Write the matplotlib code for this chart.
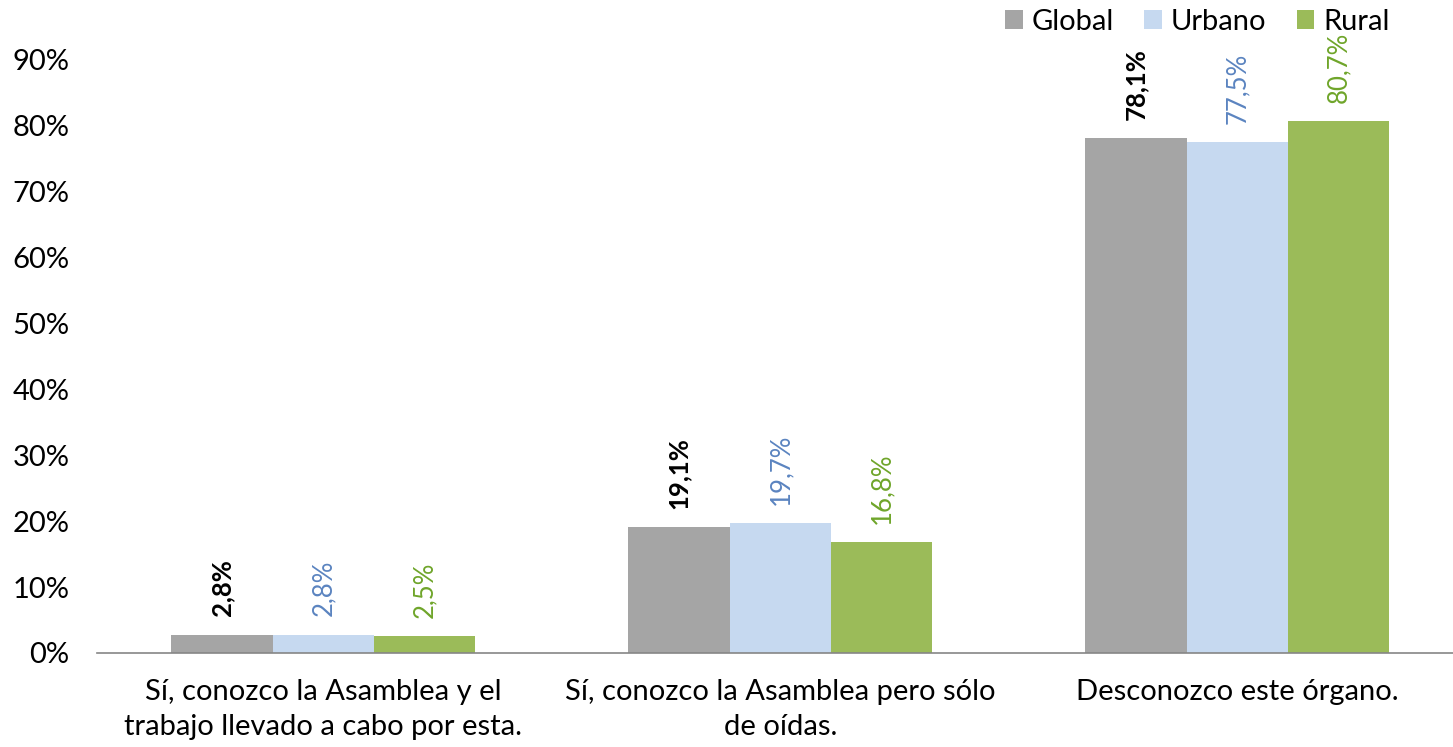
import numpy as np
import matplotlib
matplotlib.use("Agg")
import matplotlib.pyplot as plt
from matplotlib.ticker import FuncFormatter

# ── Data ──────────────────────────────────────────────────────────────────────
categories = ["Sí, conozco la Asamblea y el\ntrabajo llevado a cabo por esta.",
              "Sí, conozco la Asamblea pero sólo\nde oídas.",
              "Desconozco este órgano."]
series   = ["Global", "Urbano", "Rural"]
global_v = [2.8, 19.1, 78.1]
urbano_v = [2.8, 19.7, 77.5]
rural_v  = [2.5, 16.8, 80.7]

bar_colors   = {"Global": "#A5A5A5", "Urbano": "#C6D9F0", "Rural": "#9BBB59"}
label_colors = {"Global": "#000000", "Urbano": "#5B84C0", "Rural": "#6FA52A"}

plt.rcParams["font.family"] = ["Lato", "DejaVu Sans"]

fig = plt.figure(figsize=(14.53, 7.47), dpi=100)
ax = fig.add_axes([0.0668, 0.1259, 0.9332, 0.7938])

x = np.arange(len(categories))
w = 0.222
values = {"Global": global_v, "Urbano": urbano_v, "Rural": rural_v}

for i, s in enumerate(series):
    pos = x + (i - 1) * w
    ax.bar(pos, values[s], width=w, color=bar_colors[s], label=s, zorder=2)
    for px, v in zip(pos, values[s]):
        ax.annotate(f"{v:.1f}%".replace(".", ","), (px, v),
                    xytext=(0, 13), textcoords="offset points",
                    rotation=90, ha="center", va="bottom",
                    fontsize=18.5, color=label_colors[s],
                    fontweight="bold" if s == "Global" else "normal")

ax.set_xlim(-0.495, 2.472)
ax.set_ylim(0, 90)
ax.set_yticks(np.arange(0, 91, 10))
ax.yaxis.set_major_formatter(FuncFormatter(lambda v, _: f"{v:.0f}%"))
ax.set_xticks(x)
ax.set_xticklabels(categories, fontsize=21, linespacing=1.4)
ax.tick_params(axis="y", labelsize=21, length=0, pad=20)
ax.tick_params(axis="x", length=0, pad=19)

for side in ["top", "right", "left"]:
    ax.spines[side].set_visible(False)
ax.spines["bottom"].set_color("#868686")
ax.spines["bottom"].set_linewidth(1.2)
ax.spines["bottom"].set_zorder(3)

ax.legend(loc="center right", bbox_to_anchor=(0.953, 1.064), ncol=3, frameon=False,
          fontsize=21, handlelength=0.6, handleheight=0.6, handletextpad=0.3,
          columnspacing=1.05, borderaxespad=0.0, borderpad=0.0)

fig.savefig("out.png", dpi=100)
